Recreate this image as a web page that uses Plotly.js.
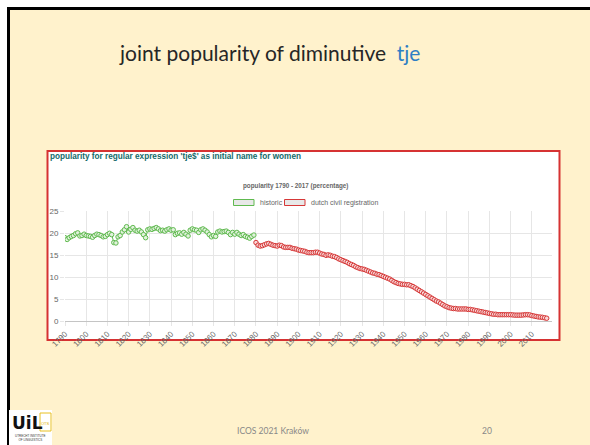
<!DOCTYPE html>
<html>
<head>
<meta charset="utf-8">
<script src="https://cdn.plot.ly/plotly-3.0.1.min.js"></script>
<style>html,body{margin:0;padding:0;background:#fff;}#chart{width:590px;height:445px;}</style>
</head>
<body>
<div id="chart"></div>
<script>
// ---- data ----
const historicStart = 1790;
const historicValues = [
  19.0, 18.6, 19.0, 19.3, 19.5, 19.9, 20.1, 19.4, 19.5, 19.8,
  19.5, 19.4, 19.3, 19.1, 19.5, 19.8, 19.7, 19.5, 19.2, 19.3,
  19.7, 20.0, 19.7, 17.9, 17.8, 19.2, 19.5, 20.3, 20.8, 21.5,
  20.3, 20.9, 21.3, 20.7, 20.5, 20.7, 20.3, 19.7, 19.0, 20.8,
  21.0, 20.9, 21.1, 21.3, 21.0, 20.6, 20.7, 20.5, 20.8, 21.0,
  20.7, 20.8, 19.7, 20.0, 20.1, 19.8, 20.2, 19.8, 19.4, 20.7,
  21.0, 20.8, 20.7, 20.2, 20.8, 21.0, 20.7, 20.3, 19.7, 19.2,
  19.5, 19.3, 20.3, 20.5, 20.3, 20.4, 20.5, 20.2, 19.7, 20.2,
  19.8, 20.2, 19.8, 19.5, 19.7, 19.3, 19.1, 18.9, 19.3, 19.6
];
const civilStart = 1880;
const civilValues = [
  17.9, 17.3, 17.1, 17.2, 17.4, 17.6, 17.7, 17.5, 17.3, 17.2,
  17.1, 17.3, 17.2, 16.9, 16.8, 16.8, 16.8, 16.6, 16.5, 16.4,
  16.2, 16.1, 16.0, 15.9, 15.7, 15.6, 15.6, 15.6, 15.7, 15.7,
  15.5, 15.3, 15.2, 15.0, 15.1, 15.0, 14.8, 14.7, 14.5, 14.2,
  14.0, 13.8, 13.6, 13.4, 13.1, 12.9, 12.7, 12.4, 12.2, 12.0,
  11.9, 11.8, 11.6, 11.4, 11.2, 11.0, 10.9, 10.7, 10.6, 10.4,
  10.2, 10.0, 9.8, 9.6, 9.3, 9.0, 8.8, 8.6, 8.5, 8.4,
  8.4, 8.3, 8.3, 8.1, 7.9, 7.6, 7.3, 7.0, 6.7, 6.4,
  6.1, 5.8, 5.5, 5.2, 4.9, 4.6, 4.4, 4.1, 3.8, 3.5,
  3.3, 3.1, 3.0, 2.9, 2.9, 2.8, 2.8, 2.8, 2.8, 2.8,
  2.7, 2.7, 2.6, 2.5, 2.4, 2.3, 2.2, 2.1, 2.0, 1.9,
  1.8, 1.7, 1.6, 1.6, 1.5, 1.5, 1.5, 1.5, 1.5, 1.5,
  1.5, 1.45, 1.4, 1.4, 1.4, 1.4, 1.45, 1.5, 1.5, 1.45,
  1.3, 1.2, 1.1, 1.0, 0.95, 0.9, 0.8, 0.7
];
const xTickVals = [1790,1800,1810,1820,1830,1840,1850,1860,1870,1880,1890,1900,1910,1920,1930,1940,1950,1960,1970,1980,1990,2000,2010];
const yTickVals = [0,5,10,15,20,25];
const seriesNames = ['historic', 'dutch civil registration'];

const historicYears = historicValues.map((v, i) => historicStart + i);
const civilYears = civilValues.map((v, i) => civilStart + i);

// ---- pixel helpers for decoration in paper coords ----
const W = 590, H = 445;
const px = x => x / W;
const py = y => 1 - y / H;

const green = 'rgb(96,186,80)';
const greenFill = 'rgba(225,242,220,1)';
const red = 'rgb(214,56,56)';
const redFill = 'rgba(248,215,215,1)';

const traces = [
  {
    x: historicYears, y: historicValues, name: seriesNames[0], type: 'scatter', mode: 'lines+markers',
    line: {color: green, width: 1},
    marker: {size: 4.5, color: greenFill, line: {color: green, width: 1}},
    hoverinfo: 'x+y'
  },
  {
    x: civilYears, y: civilValues, name: seriesNames[1], type: 'scatter', mode: 'lines+markers',
    line: {color: red, width: 1},
    marker: {size: 4.5, color: redFill, line: {color: red, width: 1}},
    hoverinfo: 'x+y'
  }
];

const tickFont = {family: 'Liberation Sans, Arial, sans-serif', size: 8, color: '#666'};

const layout = {
  width: W, height: H,
  margin: {l: 0, r: 0, t: 0, b: 0, pad: 0},
  paper_bgcolor: '#ffffff',
  plot_bgcolor: 'rgba(0,0,0,0)',
  showlegend: false,
  xaxis: {
    domain: [px(65), px(552)],
    range: [1790, 2019.5],
    tickmode: 'array', tickvals: xTickVals, ticktext: xTickVals.map(String),
    tickangle: -45, tickfont: tickFont,
    showgrid: true, gridcolor: '#e6e6e6', gridwidth: 1,
    ticks: 'outside', ticklen: 4, tickcolor: '#e6e6e6',
    zeroline: false, showline: false,
    fixedrange: true
  },
  yaxis: {
    domain: [py(321.3), py(211.3)],
    range: [0, 25],
    tickmode: 'array', tickvals: yTickVals,
    tickfont: tickFont,
    showgrid: true, gridcolor: '#e6e6e6', gridwidth: 1,
    ticks: 'outside', ticklen: 4, tickcolor: '#e6e6e6',
    zeroline: true, zerolinecolor: '#c4c4c4', zerolinewidth: 1,
    showline: false, fixedrange: true
  },
  shapes: [
    // slide
    {type: 'rect', xref: 'paper', yref: 'paper', x0: px(8.5), x1: px(600), y0: py(460), y1: py(8.5),
     fillcolor: '#FFF2CC', line: {color: '#000', width: 3}, layer: 'below'},
    // chart card
    {type: 'rect', xref: 'paper', yref: 'paper', x0: px(47.5), x1: px(559.5), y0: py(340), y1: py(151),
     fillcolor: '#ffffff', line: {color: 'rgb(214,50,50)', width: 2}, layer: 'below'},
    // legend boxes
    {type: 'rect', xref: 'paper', yref: 'paper', x0: px(233.5), x1: px(254), y0: py(205.5), y1: py(199.5),
     fillcolor: '#e8e8e8', line: {color: green, width: 1}},
    {type: 'rect', xref: 'paper', yref: 'paper', x0: px(284.5), x1: px(305), y0: py(205.5), y1: py(199.5),
     fillcolor: '#e8e8e8', line: {color: red, width: 1}},
    // logo background
    {type: 'rect', xref: 'paper', yref: 'paper', x0: px(9), x1: px(52), y0: py(445), y1: py(410),
     fillcolor: '#ffffff', line: {width: 0}},
    {type: 'rect', xref: 'paper', yref: 'paper', x0: px(40), x1: px(51), y0: py(431), y1: py(413),
     fillcolor: '#ffffff', line: {color: '#e8c020', width: 1}}
  ],
  annotations: [
    {xref: 'paper', yref: 'paper', x: px(117), y: py(52), xanchor: 'left', yanchor: 'middle', showarrow: false,
     text: 'joint popularity of diminutive  <span style="color:#2E7FC4">tje</span>',
     font: {family: 'Lato, Carlito, Calibri, sans-serif', size: 21, color: '#262626', weight: 400}},
    {xref: 'paper', yref: 'paper', x: px(48), y: py(157), xanchor: 'left', yanchor: 'middle', showarrow: false,
     text: "<b>popularity for regular expression 'tje$' as initial name for women</b>",
     font: {family: 'Liberation Sans, Arial, sans-serif', size: 8.2, color: '#146a6a'}},
    {xref: 'paper', yref: 'paper', x: px(295), y: py(186), xanchor: 'center', yanchor: 'middle', showarrow: false,
     text: '<b>popularity 1790 - 2017 (percentage)</b>',
     font: {family: 'Liberation Sans, Arial, sans-serif', size: 6.3, color: '#666'}},
    {xref: 'paper', yref: 'paper', x: px(257.5), y: py(202.5), xanchor: 'left', yanchor: 'middle', showarrow: false,
     text: seriesNames[0], font: {family: 'Liberation Sans, Arial, sans-serif', size: 7, color: '#666'}},
    {xref: 'paper', yref: 'paper', x: px(308.5), y: py(202.5), xanchor: 'left', yanchor: 'middle', showarrow: false,
     text: seriesNames[1], font: {family: 'Liberation Sans, Arial, sans-serif', size: 7, color: '#666'}},
    {xref: 'paper', yref: 'paper', x: px(273), y: py(431), xanchor: 'center', yanchor: 'middle', showarrow: false,
     text: 'ICOS 2021 Kraków', font: {family: 'Lato, Carlito, sans-serif', size: 8.5, color: '#888'}},
    {xref: 'paper', yref: 'paper', x: px(487), y: py(431), xanchor: 'center', yanchor: 'middle', showarrow: false,
     text: '20', font: {family: 'Lato, Carlito, sans-serif', size: 8.5, color: '#888'}},
    // logo
    {xref: 'paper', yref: 'paper', x: px(10), y: py(423), xanchor: 'left', yanchor: 'middle', showarrow: false,
     text: '<b>UiL</b>', font: {family: 'DejaVu Sans, sans-serif', size: 17, color: '#111'}},
    {xref: 'paper', yref: 'paper', x: px(45.5), y: py(423), xanchor: 'center', yanchor: 'middle', showarrow: false,
     text: 'OTS', font: {family: 'Liberation Sans, sans-serif', size: 4, color: '#e0b000'}},
    {xref: 'paper', yref: 'paper', x: px(30), y: py(438), xanchor: 'center', yanchor: 'middle', showarrow: false,
     text: 'UTRECHT INSTITUTE<br>OF LINGUISTICS', font: {family: 'Liberation Sans, sans-serif', size: 3, color: '#333'}}
  ]
};

Plotly.newPlot('chart', traces, layout, {displayModeBar: false, staticPlot: true});
</script>
</body>
</html>
